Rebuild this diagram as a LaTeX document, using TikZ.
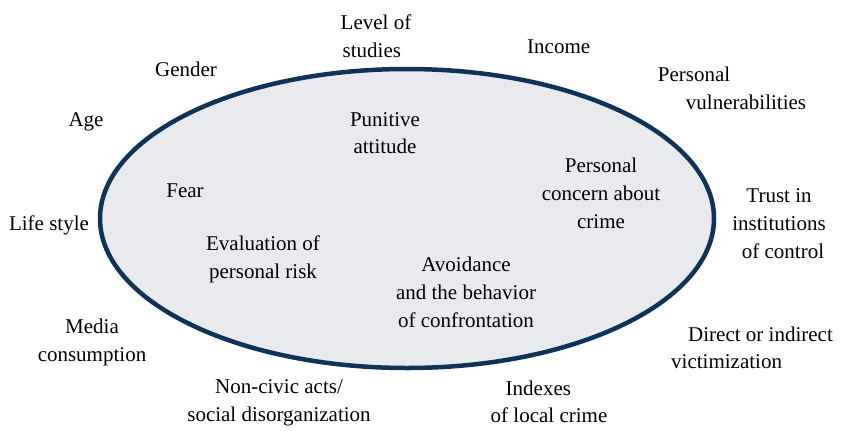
\documentclass[tikz,border=0pt]{standalone}
\usepackage{fontspec}
\setmainfont{Liberation Serif}
\definecolor{navy}{HTML}{0F3358}
\definecolor{pale}{HTML}{E9EAED}
\newcommand{\mycl}[1]{\begin{tabular}[t]{@{}c@{}}#1\end{tabular}}
\newcommand{\myll}[1]{\begin{tabular}[t]{@{}l@{}}#1\end{tabular}}
\begin{document}
\begin{tikzpicture}[x=1pt,y=1pt,
  lbl/.style={inner sep=0pt,anchor=base,font=\fontsize{21}{27.7}\selectfont}]
\useasboundingbox (0,0) rectangle (842,-431);
\draw[draw=navy,line width=4.5pt,fill=pale] (407,-218.5) ellipse [x radius=307, y radius=149.5];
% outside labels
\node[lbl] (lev) at (376,-29.3) {\myll{Level of\\\hspace*{2pt}studies}};
\node[lbl] (gen) at (186,-76.7) {Gender};
\node[lbl] (age) at (86,-126) {Age};
\node[lbl] (inc) at (558.7,-53.3) {Income};
\node[lbl] (pv) at (732,-81.7) {\myll{Personal\\\hspace*{28pt}vulnerabilities}};
\node[lbl] (ls) at (49,-230) {Life style};
\node[lbl] (tr) at (779,-202.7) {\mycl{Trust in\\institutions\\\hspace*{8pt}of control}};
\node[lbl] (med) at (92,-333.3) {\mycl{Media\\consumption}};
\node[lbl] (dir) at (752,-341) {\myll{\hspace*{17pt}Direct or indirect\\victimization}};
\node[lbl] (non) at (279,-393.3) {\mycl{Non-civic acts/\\social disorganization}};
\node[lbl] (idx) at (549,-395) {\myll{\hspace*{15pt}Indexes\\of local crime}};
% inside labels
\node[lbl] (pun) at (385,-126) {\mycl{Punitive\\attitude}};
\node[lbl] (fear) at (185,-197) {Fear};
\node[lbl] (pc) at (601,-172.7) {\mycl{Personal\\concern about\\crime}};
\node[lbl] (ev) at (263,-250.7) {\mycl{Evaluation of\\personal risk}};
\node[lbl] (av) at (466,-271.7) {\mycl{Avoidance\\and the behavior\\of confrontation}};
\end{tikzpicture}
\end{document}
